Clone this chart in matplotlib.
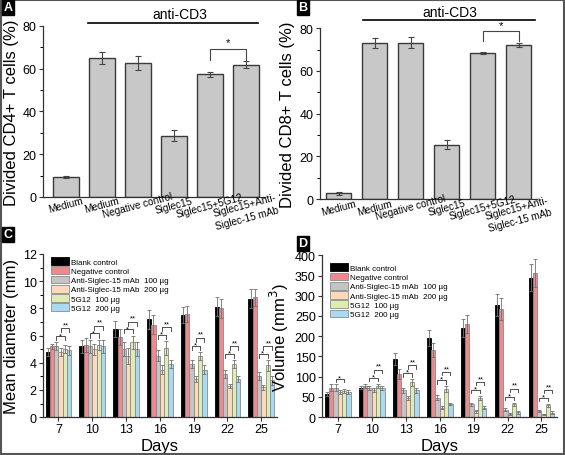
import numpy as np
import matplotlib.pyplot as plt
from matplotlib.patches import Rectangle

plt.rcParams['font.family'] = ['Liberation Sans', 'DejaVu Sans']

# ---- panels A / B : T cell proliferation
groups_ab = ["Medium", "Medium", "Negative control", "Siglec15",
             "Siglec15+5G12", "Siglec15+Anti-\nSiglec-15 mAb"]
cd4_mean = [9.3, 65.0, 62.5, 28.7, 57.3, 61.8]
cd4_err = [0.5, 2.7, 3.2, 2.7, 1.0, 1.7]
cd8_mean = [2.7, 73.0, 73.3, 25.5, 68.5, 72.0]
cd8_err = [0.8, 2.5, 2.8, 2.0, 0.5, 1.0]

# ---- panels C / D : tumour growth
days = [7, 10, 13, 16, 19, 22, 25]
series_names = ["Blank control", "Negative control", "Anti-Siglec-15 mAb  100 \u00b5g",
                "Anti-Siglec-15 mAb  200 \u00b5g", "5G12  100 \u00b5g", "5G12  200 \u00b5g"]
series_colors = ["#000000", "#F2878C", "#C4C4C4", "#FCD9B8", "#DDEBB5", "#A9DAF2"]

diam_blank = [4.8, 5.2, 6.5, 7.2, 7.5, 8.1, 8.7]
diam_neg = [5.2, 5.3, 5.9, 6.8, 7.6, 8.0, 8.8]
diam_a100 = [5.2, 5.2, 5.0, 4.5, 3.9, 3.2, 3.0]
diam_a200 = [4.8, 5.0, 4.5, 3.5, 2.8, 2.3, 2.2]
diam_g100 = [5.0, 5.3, 5.5, 5.1, 4.5, 3.9, 3.8]
diam_g200 = [4.9, 5.2, 5.0, 3.9, 3.5, 2.8, 2.7]
diam_blank_err = [0.3, 0.5, 0.6, 0.7, 0.6, 0.7, 0.7]
diam_neg_err = [0.2, 0.5, 0.6, 0.7, 0.6, 0.7, 0.6]
diam_a100_err = [0.3, 0.5, 0.5, 0.4, 0.3, 0.3, 0.3]
diam_a200_err = [0.3, 0.4, 0.6, 0.3, 0.2, 0.15, 0.2]
diam_g100_err = [0.3, 0.4, 0.5, 0.5, 0.3, 0.3, 0.4]
diam_g200_err = [0.3, 0.5, 0.5, 0.3, 0.3, 0.2, 0.3]

vol_blank = [58, 73, 143, 195, 220, 278, 345]
vol_neg = [73, 78, 107, 165, 230, 268, 357]
vol_a100 = [73, 72, 66, 48, 32, 18, 15]
vol_a200 = [61, 67, 48, 23, 14, 8, 7]
vol_g100 = [65, 78, 86, 70, 48, 32, 29]
vol_g200 = [62, 73, 66, 32, 23, 12, 11]
vol_blank_err = [5, 3, 15, 20, 22, 27, 33]
vol_neg_err = [8, 5, 12, 17, 23, 27, 35]
vol_a100_err = [8, 5, 6, 6, 4, 4, 3]
vol_a200_err = [5, 5, 5, 4, 3, 2, 2]
vol_g100_err = [5, 5, 8, 7, 5, 4, 4]
vol_g200_err = [5, 5, 6, 3, 4, 3, 3]

diam = [diam_blank, diam_neg, diam_a100, diam_a200, diam_g100, diam_g200]
diam_err = [diam_blank_err, diam_neg_err, diam_a100_err, diam_a200_err, diam_g100_err, diam_g200_err]
vol = [vol_blank, vol_neg, vol_a100, vol_a200, vol_g100, vol_g200]
vol_err = [vol_blank_err, vol_neg_err, vol_a100_err, vol_a200_err, vol_g100_err, vol_g200_err]
# day 7 of the volume panel only has the single-star comparison
vol_double_star = [False, True, True, True, True, True, True]

fig = plt.figure(figsize=(5.65, 4.56), dpi=100)


def style_axes(ax):
    for s in ["top", "right"]:
        ax.spines[s].set_visible(False)
    for s in ["left", "bottom"]:
        ax.spines[s].set_linewidth(0.9)
        ax.spines[s].set_color("#333333")
    ax.tick_params(length=3, width=0.8, labelsize=9, color="#333333", pad=1.5)


def panel_label(x, y, letter):
    fig.text(x, y, letter, color="white", fontsize=9, fontweight="bold",
             ha="left", va="top",
             bbox=dict(boxstyle="square,pad=0.12", fc="black", ec="black"))


def prolif_panel(rect, mean, err, ylabel, xlim, line_x, line_y, text_x, text_y, br_top, br_leg):
    ax = fig.add_axes(rect)
    x = np.arange(len(mean))
    ax.bar(x, mean, width=0.7, color="#C8C8C8", edgecolor="#3a3a3a", linewidth=1.0,
           yerr=err, error_kw=dict(ecolor="#444444", elinewidth=0.8, capsize=2, capthick=0.8))
    ax.set_xlim(*xlim)
    ax.set_ylim(0, 80)
    ax.set_yticks([0, 20, 40, 60, 80])
    ax.set_yticks([10, 30, 50, 70], minor=True)
    ax.set_xticks(x)
    ax.set_xticklabels([])
    style_axes(ax)
    ax.tick_params(axis="x", length=0)
    ax.tick_params(axis="y", which="minor", length=2, width=0.7)
    # slanted category labels, centred under each bar
    for xi, lab in zip(x, groups_ab):
        dy = -0.047 if "\n" not in lab else -0.085
        ax.text(xi, dy, lab, transform=ax.get_xaxis_transform(), rotation=15,
                rotation_mode="anchor", ha="center", va="center", fontsize=7.2,
                linespacing=1.35)
    ax.set_ylabel(ylabel, fontsize=12, labelpad=3)
    ax.plot(line_x, [line_y, line_y], color="black", lw=1.2, clip_on=False)
    ax.text(text_x, text_y, "anti-CD3", ha="center", va="center", fontsize=10)
    ax.plot([4, 4, 5, 5], [br_leg, br_top, br_top, br_leg], color="#444444", lw=0.8, clip_on=False)
    ax.text(4.5, br_top + 0.6, "*", ha="center", va="bottom", fontsize=8)
    return ax


prolif_panel([0.076, 0.566, 0.393, 0.375], cd4_mean, cd4_err, "Divided CD4+ T cells (%)",
             (-0.64, 5.53), [0.61, 5.33], 81.4, 3.17, 85.5, 69.3, 64.0)
prolif_panel([0.566, 0.561, 0.384, 0.375], cd8_mean, cd8_err, "Divided CD8+ T cells (%)",
             (-0.53, 5.5), [0.67, 5.44], 83.7, 3.08, 87.6, 78.6, 74.0)


def growth_panel(rect, data, errs, ylim, yticks, minor, ylabel, star_off, dstar_off, leg_len,
                 double_flags, leg_anchor):
    ax = fig.add_axes(rect)
    x = np.arange(len(days))
    w = 0.127
    for i, (vals, e) in enumerate(zip(data, errs)):
        ec = "black" if i == 0 else "#8a8a8a"
        ax.bar(x + (i - 2.5) * w, vals, width=w, color=series_colors[i], edgecolor=ec,
               linewidth=0.6, label=series_names[i],
               yerr=e, error_kw=dict(ecolor="#707070", elinewidth=0.6, capsize=1.3, capthick=0.6))
    # significance brackets: * (bars 3-5), ** (bars 4-6)
    for g in range(len(days)):
        tops = [data[k][g] + errs[k][g] for k in range(2, 6)]
        y1 = max(tops[:3]) + star_off
        xa, xb = g - 0.5 * w, g + 1.5 * w
        ax.plot([xa, xa, xb, xb], [y1 - leg_len, y1, y1, y1 - leg_len], color="#333333", lw=0.6)
        ax.text((xa + xb) / 2 - 0.02, y1 - leg_len * 0.7, "*", ha="center", va="bottom", fontsize=5.5)
        if double_flags[g]:
            y2 = y1 + dstar_off
            xa, xb = g + 0.5 * w, g + 2.5 * w
            ax.plot([xa, xa, xb, xb], [y2 - leg_len, y2, y2, y2 - leg_len], color="#333333", lw=0.6)
            ax.text((xa + xb) / 2 + 0.02, y2, "**", ha="center", va="bottom", fontsize=5.5)
    ax.set_xlim(-0.46, 6.46)
    ax.set_ylim(*ylim)
    ax.set_yticks(yticks)
    ax.set_yticks(minor, minor=True)
    ax.set_xticks(x)
    ax.set_xticklabels([str(d) for d in days])
    style_axes(ax)
    ax.tick_params(axis="y", which="minor", length=2, width=0.7)
    ax.set_xlabel("Days", fontsize=12, labelpad=2)
    ax.set_ylabel(ylabel, fontsize=12, labelpad=3)
    ax.legend(loc="upper left", bbox_to_anchor=leg_anchor, frameon=False, fontsize=5.8,
              handlelength=2.2, handleheight=1.1, handletextpad=0.3, labelspacing=0.08,
              borderaxespad=0.2, borderpad=0.2)
    return ax


growth_panel([0.076, 0.083, 0.414, 0.358], diam, diam_err, (0, 12), np.arange(0, 13, 2),
             np.arange(1, 12, 2), "Mean diameter (mm)", 0.45, 0.58, 0.3, [True] * 7, (0.02, 1.0))
growth_panel([0.570, 0.083, 0.416, 0.355], vol, vol_err, (0, 400), np.arange(0, 401, 50),
             [], "Volume (mm$^3$)", 14, 20, 8, vol_double_star, (0.02, 0.97))

panel_label(0.006, 0.995, "A")
panel_label(0.528, 0.995, "B")
panel_label(0.006, 0.497, "C")
panel_label(0.528, 0.478, "D")

fig.patches.append(Rectangle((0.002, 0.002), 0.996, 0.996, transform=fig.transFigure,
                             fill=False, edgecolor="#555555", linewidth=1.5))

fig.savefig("out.png", dpi=100)
